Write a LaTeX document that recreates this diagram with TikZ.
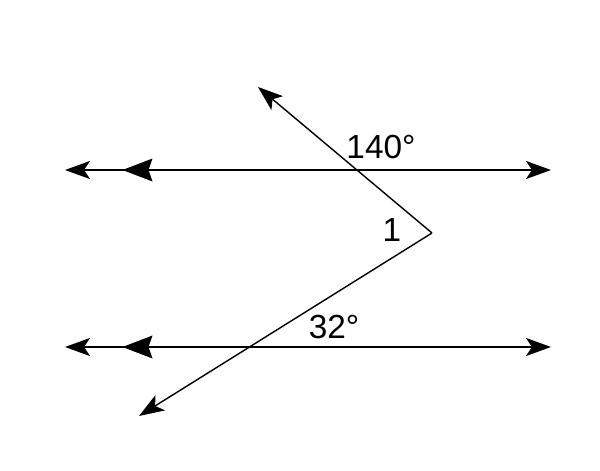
\documentclass[tikz,border=0pt]{standalone}
\usepackage{fontspec}
\setmainfont{Liberation Sans}
\usetikzlibrary{arrows.meta}

\begin{document}
\begin{tikzpicture}[
    tip/.style={-{Stealth[length=0.5cm,width=0.36cm,inset=0.12cm]}},
    lbl/.style={font=\fontsize{19}{19}\selectfont}
]
            \useasboundingbox (0,0) rectangle (12,9.4);

            % Parallel lines
            \draw[line width=1.1pt, {Stealth[length=0.5cm,width=0.36cm,inset=0.12cm]}-{Stealth[length=0.5cm,width=0.36cm,inset=0.12cm]}] (1.3,6) -- (11.02,6);
            \draw[line width=1.1pt, {Stealth[length=0.5cm,width=0.36cm,inset=0.12cm]}-{Stealth[length=0.5cm,width=0.36cm,inset=0.12cm]}] (1.3,2.46) -- (11.02,2.46);

            % Parallel marks
            \fill (2.45,6) -- (3.05,6.23) -- (2.97,6) -- (3.05,5.77) -- cycle;
            \fill (2.45,2.46) -- (3.05,2.69) -- (2.97,2.46) -- (3.05,2.23) -- cycle;

            % Transversals
            \coordinate (V) at (8.64,4.74);
            \draw[line width=0.8pt, tip] (V) -- (5.16,7.66);
            \draw[line width=0.8pt, tip] (V) -- (2.78,1.08);

            % Angles
            \node[lbl] at (7.62,6.45) {140°};
            \node[lbl] at (7.84,4.8) {1};
            \node[lbl] at (6.68,2.86) {32°};
\end{tikzpicture}
\end{document}
